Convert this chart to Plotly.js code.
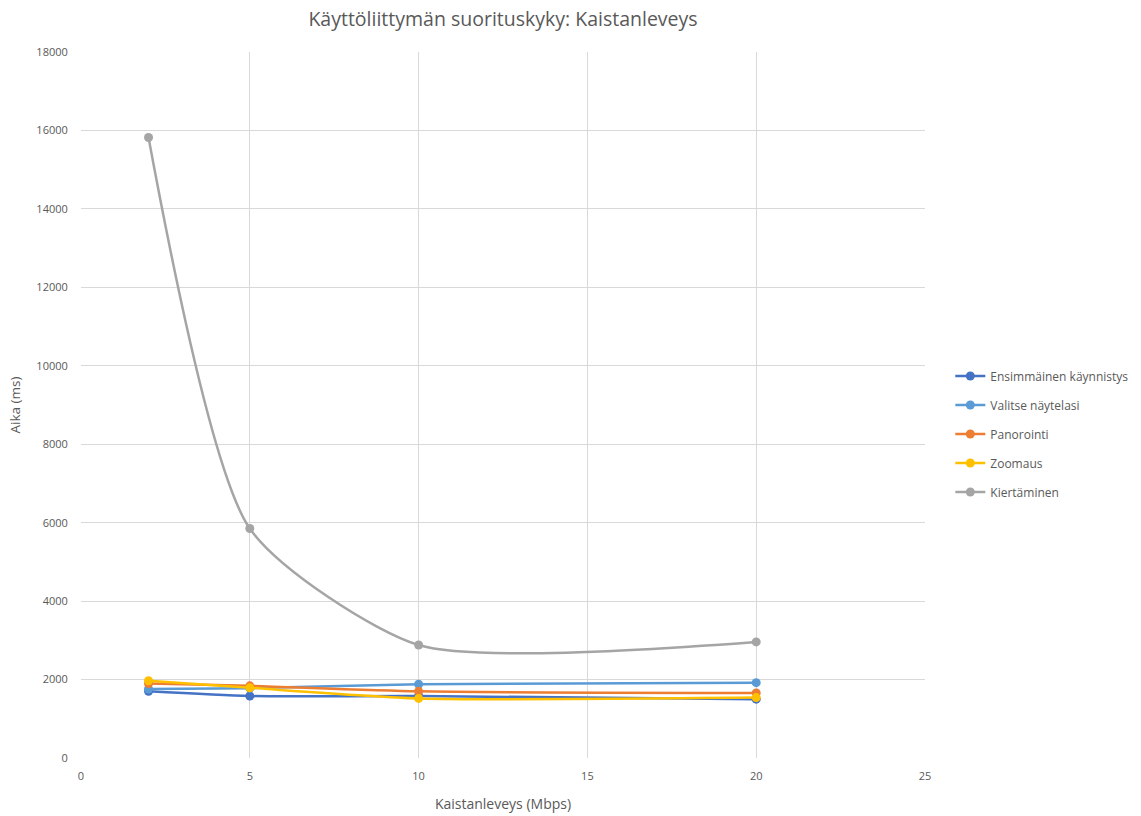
<!DOCTYPE html>
<html>
<head>
<meta charset="utf-8">
<script src="https://cdn.plot.ly/plotly-3.0.1.min.js"></script>
<style>html,body{margin:0;padding:0;background:#fff;}#chart{width:1141px;height:816px;}</style>
</head>
<body>
<div id="chart"></div>
<script>
const bandwidth = [2, 5, 10, 20];
const seriesNames = ["Ensimmäinen käynnistys", "Valitse näytelasi", "Panorointi", "Zoomaus", "Kiertäminen"];
const ensimmainen = [1700, 1580, 1580, 1500];
const valitse = [1760, 1780, 1880, 1920];
const panorointi = [1900, 1840, 1700, 1660];
const zoomaus = [1970, 1790, 1520, 1540];
const kiertaminen = [15820, 5850, 2880, 2960];
const colors = ["#4472C4", "#5B9BD5", "#ED7D31", "#FFC000", "#A5A5A5"];

const allValues = [ensimmainen, valitse, panorointi, zoomaus, kiertaminen];
const traces = allValues.map((vals, i) => ({
  x: bandwidth,
  y: vals,
  name: seriesNames[i],
  legendgroup: 'g' + i,
  type: 'scatter',
  mode: 'lines+markers',
  line: {color: colors[i], width: 2.5, shape: 'spline', smoothing: 0.65},
  marker: {color: colors[i], size: 9}
}));

const layout = {
  width: 1141,
  height: 816,
  margin: {l: 81, r: 216, t: 52, b: 58, autoexpand: false},
  paper_bgcolor: '#fff',
  plot_bgcolor: '#fff',
  font: {family: 'Open Sans, Calibri, sans-serif', color: '#595959', size: 12},
  title: {text: 'Käyttöliittymän suorituskyky: Kaistanleveys', xref: 'paper', x: 0.5, xanchor: 'center', y: 0.977, yanchor: 'middle', font: {size: 19.5, color: '#595959'}},
  xaxis: {
    range: [0, 25], dtick: 5, tick0: 0,
    showgrid: true, gridcolor: '#d9d9d9', gridwidth: 1,
    zeroline: false, showline: false,
    ticks: 'outside', ticklen: 8, tickcolor: 'rgba(0,0,0,0)',
    title: {text: 'Kaistanleveys (Mbps)', font: {size: 14, color: '#595959'}, standoff: 16},
    tickfont: {size: 11, color: '#595959'}
  },
  yaxis: {
    range: [0, 18000], dtick: 2000, tick0: 0,
    showgrid: true, gridcolor: '#d9d9d9', gridwidth: 1,
    zeroline: false, showline: false,
    ticks: 'outside', ticklen: 10, tickcolor: 'rgba(0,0,0,0)',
    tickformat: 'd',
    title: {text: 'Aika (ms)', font: {size: 13.5, color: '#595959'}, standoff: 12},
    tickfont: {size: 11, color: '#595959'}
  },
  legend: {
    x: 1.03, xanchor: 'left', y: 0.459, yanchor: 'middle',
    font: {size: 12, color: '#595959'},
    tracegroupgap: 10, itemwidth: 30
  },
  showlegend: true
};

Plotly.newPlot('chart', traces, layout, {displayModeBar: false, staticPlot: true});
</script>
</body>
</html>
